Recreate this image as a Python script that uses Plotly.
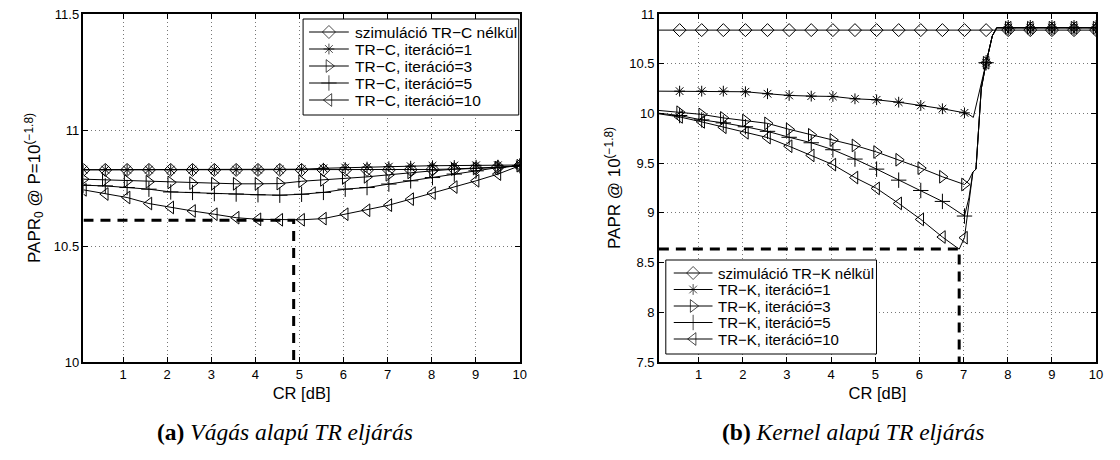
import plotly.graph_objects as go

# ---------------- data: left panel (a) ----------------
cr_left = [0.1, 0.595, 1.09, 1.585, 2.08, 2.575, 3.07, 3.565, 4.06, 4.555, 5.05,
           5.545, 6.04, 6.535, 7.03, 7.525, 8.02, 8.515, 9.01, 9.505, 10.0]
left_sim = [10.828, 10.828, 10.828, 10.828, 10.828, 10.828, 10.828, 10.828, 10.828, 10.828, 10.828,
            10.828, 10.828, 10.828, 10.828, 10.829, 10.830, 10.832, 10.835, 10.840, 10.846]
left_it1 = [10.829, 10.829, 10.829, 10.829, 10.829, 10.829, 10.829, 10.829, 10.829, 10.830, 10.831,
            10.835, 10.838, 10.840, 10.842, 10.844, 10.846, 10.847, 10.848, 10.848, 10.849]
left_it3 = [10.788, 10.785, 10.780, 10.777, 10.774, 10.771, 10.769, 10.768, 10.768, 10.769, 10.779,
            10.785, 10.793, 10.798, 10.807, 10.817, 10.824, 10.831, 10.834, 10.838, 10.846]
left_it5 = [10.762, 10.759, 10.752, 10.745, 10.733, 10.731, 10.726, 10.724, 10.721, 10.719, 10.723,
            10.731, 10.745, 10.752, 10.767, 10.781, 10.795, 10.810, 10.824, 10.838, 10.846]
left_it10 = [10.742, 10.724, 10.709, 10.683, 10.666, 10.651, 10.637, 10.622, 10.615, 10.613, 10.613,
             10.618, 10.637, 10.654, 10.676, 10.702, 10.728, 10.754, 10.781, 10.810, 10.846]
left_names = ["szimuláció TR−C nélkül", "TR−C, iteráció=1", "TR−C, iteráció=3",
              "TR−C, iteráció=5", "TR−C, iteráció=10"]
left_opt_x = [0.1, 4.87, 4.87]
left_opt_y = [10.611, 10.611, 10.0]

# ---------------- data: right panel (b) ----------------
cr_right_mk = [0.57, 1.07, 1.56, 2.06, 2.56, 3.05, 3.55, 4.04, 4.54, 5.03, 5.53, 6.03, 6.52, 7.02,
               7.51, 8.01, 8.51, 9.0, 9.5, 10.0]
right_sim = [10.838] * 20
right_it1 = [10.224, 10.224, 10.224, 10.218, 10.198, 10.181, 10.174, 10.171, 10.147, 10.137,
             10.113, 10.080, 10.047, 10.006, 10.51, 10.862, 10.862, 10.862, 10.862, 10.862]
right_it3 = [10.012, 9.990, 9.955, 9.928, 9.900, 9.840, 9.785, 9.733, 9.678, 9.612,
             9.534, 9.450, 9.363, 9.285, 10.51, 10.862, 10.862, 10.862, 10.862, 10.862]
right_it5 = [9.979, 9.935, 9.905, 9.866, 9.820, 9.760, 9.705, 9.635, 9.541, 9.440,
             9.329, 9.225, 9.115, 8.968, 10.51, 10.862, 10.862, 10.862, 10.862, 10.862]
right_it10 = [9.965, 9.915, 9.861, 9.805, 9.757, 9.670, 9.578, 9.485, 9.355, 9.246,
              9.095, 8.934, 8.757, 8.750, 10.51, 10.862, 10.862, 10.862, 10.862, 10.862]
# extra points of the (densely sampled) curves between markers
right_sim_extra_x = [0.1]
right_sim_extra_y = [10.838]
right_it1_extra_x = [0.1, 7.12, 7.22, 7.30, 7.40, 7.65, 7.75]
right_it1_extra_y = [10.224, 9.990, 9.960, 10.12, 10.30, 10.78, 10.862]
right_it3_extra_x = [0.1, 7.12, 7.21, 7.28, 7.34, 7.40, 7.65, 7.75]
right_it3_extra_y = [10.030, 9.330, 9.410, 9.440, 9.850, 10.25, 10.78, 10.862]
right_it5_extra_x = [0.1, 7.12, 7.21, 7.28, 7.34, 7.40, 7.65, 7.75]
right_it5_extra_y = [10.002, 9.150, 9.410, 9.440, 9.850, 10.25, 10.78, 10.862]
right_it10_extra_x = [0.1, 6.90, 7.12, 7.21, 7.28, 7.34, 7.40, 7.65, 7.75]
right_it10_extra_y = [9.996, 8.635, 9.100, 9.410, 9.440, 9.850, 10.25, 10.78, 10.862]
right_names = ["szimuláció TR−K nélkül", "TR−K, iteráció=1", "TR−K, iteráció=3",
               "TR−K, iteráció=5", "TR−K, iteráció=10"]
right_opt_x = [0.1, 6.90, 6.90]
right_opt_y = [8.637, 8.637, 7.5]

symbols = ["diamond-open", "asterisk-open", "triangle-right-open", "cross-thin-open", "triangle-left-open"]
sizes = [10, 9, 11, 11, 11]

# ---------------- layout constants (pixels) ----------------
W, H = 1120, 460
PLOT_TOP, PLOT_BOTTOM = 14, 362
LEFT_X0, LEFT_X1 = 84, 523
RIGHT_X0, RIGHT_X1 = 663, 1103
FONT = "Liberation Sans, Arial, sans-serif"
SERIF = "Liberation Serif, DejaVu Serif, serif"

legend_boxes = [
    dict(box=(305, 522, 19, 115), y0=32, dy=17, line=(311, 351), text_x=355, size=15.5, names=left_names),
    dict(box=(670, 882, 260, 354), y0=273, dy=16.5, line=(678, 717), text_x=721, size=15, names=right_names),
]

fig = go.Figure()

# left panel
for name, ys, sym, sz in zip(left_names, [left_sim, left_it1, left_it3, left_it5, left_it10], symbols, sizes):
    fig.add_trace(go.Scatter(x=cr_left, y=ys, mode="lines+markers", name=name, showlegend=False,
                             line=dict(color="black", width=1),
                             marker=dict(symbol=sym, size=sz, color="black", line=dict(color="black", width=1)),
                             xaxis="x", yaxis="y"))
fig.add_trace(go.Scatter(x=left_opt_x, y=left_opt_y, mode="lines", showlegend=False,
                         line=dict(color="black", width=3, dash="10px,7px"), xaxis="x", yaxis="y"))

# right panel
right_series = [
    (right_sim, right_sim_extra_x, right_sim_extra_y),
    (right_it1, right_it1_extra_x, right_it1_extra_y),
    (right_it3, right_it3_extra_x, right_it3_extra_y),
    (right_it5, right_it5_extra_x, right_it5_extra_y),
    (right_it10, right_it10_extra_x, right_it10_extra_y),
]
for (ys, ex, ey), name, sym, sz in zip(right_series, right_names, symbols, sizes):
    pts = sorted(list(zip(cr_right_mk, ys)) + list(zip(ex, ey)))
    fig.add_trace(go.Scatter(x=[p[0] for p in pts], y=[p[1] for p in pts], mode="lines", name=name,
                             showlegend=False, line=dict(color="black", width=1),
                             xaxis="x2", yaxis="y2"))
    fig.add_trace(go.Scatter(x=cr_right_mk, y=ys, mode="markers", name=name, showlegend=False,
                             marker=dict(symbol=sym, size=sz, color="black", line=dict(color="black", width=1)),
                             xaxis="x2", yaxis="y2"))
fig.add_trace(go.Scatter(x=right_opt_x, y=right_opt_y, mode="lines", showlegend=False,
                         line=dict(color="black", width=3, dash="10px,7px"), xaxis="x2", yaxis="y2"))

# legends (MATLAB-style boxes), drawn on a pixel-coordinate overlay subplot
annotations = []
for lg in legend_boxes:
    bx0, bx1, by0, by1 = lg["box"]
    fig.add_trace(go.Scatter(x=[bx0, bx1, bx1, bx0, bx0], y=[by0, by0, by1, by1, by0], mode="lines",
                             fill="toself", fillcolor="white", line=dict(color="black", width=1),
                             showlegend=False, hoverinfo="skip", xaxis="x3", yaxis="y3"))
    lx0, lx1 = lg["line"]
    for i, (name, sym, sz) in enumerate(zip(lg["names"], symbols, sizes)):
        ry = lg["y0"] + i * lg["dy"]
        fig.add_trace(go.Scatter(x=[lx0, (lx0 + lx1) / 2, lx1], y=[ry, ry, ry], mode="lines+markers",
                                 line=dict(color="black", width=1),
                                 marker=dict(symbol=sym, size=[0, sz, 0], color="black",
                                             line=dict(color="black", width=1)),
                                 showlegend=False, hoverinfo="skip", xaxis="x3", yaxis="y3"))
        annotations.append(dict(text=name, x=lg["text_x"], y=ry, xref="x3", yref="y3",
                                xanchor="left", yanchor="middle", showarrow=False,
                                font=dict(family=FONT, size=lg["size"], color="black")))

annotations += [
    dict(text="<b>(a)</b> <i>Vágás alapú TR eljárás</i>", x=287 / W, y=-0.2, xref="paper", yref="paper",
         yanchor="middle", xanchor="center", showarrow=False,
         font=dict(family=SERIF, size=23.5, color="black")),
    dict(text="<b>(b)</b> <i>Kernel alapú TR eljárás</i>", x=858 / W, y=-0.2, xref="paper", yref="paper",
         yanchor="middle", xanchor="center", showarrow=False,
         font=dict(family=SERIF, size=23.5, color="black")),
]

axis_common = dict(showline=True, linecolor="black", linewidth=1.5, mirror="ticks",
                   ticks="inside", ticklen=5, tickcolor="black",
                   showgrid=True, gridcolor="#777777", griddash="1px,3px", gridwidth=1,
                   zeroline=False, tickfont=dict(family=FONT, size=13, color="black"))

fig.update_layout(
    width=W, height=H, margin=dict(l=0, r=0, t=PLOT_TOP, b=H - PLOT_BOTTOM),
    paper_bgcolor="white", plot_bgcolor="rgba(0,0,0,0)",
    font=dict(family=FONT, size=13, color="black"),
    showlegend=False,
    xaxis=dict(domain=[LEFT_X0 / W, LEFT_X1 / W], range=[0.1, 10], tickvals=list(range(1, 11)),
               title=dict(text="CR [dB]", font=dict(family=FONT, size=16.5), standoff=6),
               anchor="y", **axis_common),
    yaxis=dict(domain=[0, 1], range=[10, 11.5], dtick=0.5, tick0=10,
               title=dict(text="PAPR<sub>0</sub> @ P=10<sup>(−1.8)</sup>", font=dict(family=FONT, size=17), standoff=9),
               anchor="x", **axis_common),
    xaxis2=dict(domain=[RIGHT_X0 / W, RIGHT_X1 / W], range=[0.1, 10], tickvals=list(range(1, 11)),
                title=dict(text="CR [dB]", font=dict(family=FONT, size=16.5), standoff=6),
                anchor="y2", **axis_common),
    yaxis2=dict(domain=[0, 1], range=[7.5, 11], dtick=0.5, tick0=7.5,
                title=dict(text="PAPR @ 10<sup>(−1.8)</sup>", font=dict(family=FONT, size=17), standoff=4),
                anchor="x2", **axis_common),
    xaxis3=dict(domain=[0, 1], range=[0, W], visible=False, fixedrange=True, anchor="y3"),
    yaxis3=dict(domain=[0, 1], range=[PLOT_BOTTOM, PLOT_TOP], visible=False, fixedrange=True, anchor="x3"),
    annotations=annotations,
)

fig.write_html("out.html")
